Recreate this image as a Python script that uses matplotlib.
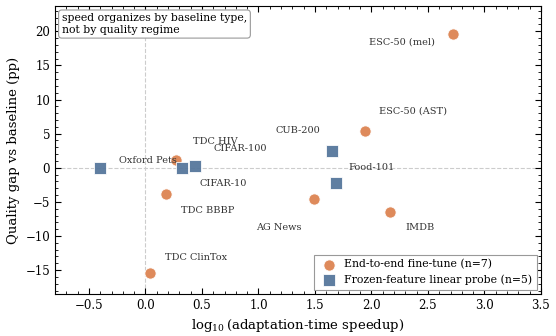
import numpy as np
import matplotlib
matplotlib.use("Agg")
import matplotlib.pyplot as plt

plt.rcParams["font.family"] = ["DejaVu Serif"]
plt.rcParams["mathtext.fontset"] = "dejavuserif"

# End-to-end fine-tune
ft_names = ["ESC-50 (mel)", "ESC-50 (AST)", "Oxford Pets", "TDC BBBP",
            "AG News", "IMDB", "TDC ClinTox"]
ft_x = [2.72, 1.94, 0.27, 0.18, 1.49, 2.16, 0.04]
ft_y = [19.6, 5.4, 1.1, -3.9, -4.6, -6.5, -15.4]

# Frozen-feature linear probe
lp_names = ["TDC HIV", "CIFAR-10", "CIFAR-100", "CUB-200", "Food-101"]
lp_x = [-0.40, 0.32, 0.44, 1.65, 1.69]
lp_y = [0.0, 0.0, 0.3, 2.5, -2.3]

# label text placement (data coords)
label_pos = {
    "ESC-50 (mel)": (2.27, 18.4),
    "ESC-50 (AST)": (2.37, 8.3),
    "Oxford Pets": (0.02, 1.1),
    "TDC BBBP": (0.55, -6.3),
    "AG News": (1.18, -8.7),
    "IMDB": (2.43, -8.8),
    "TDC ClinTox": (0.45, -13.1),
    "TDC HIV": (0.615, 3.9),
    "CIFAR-10": (0.69, -2.3),
    "CIFAR-100": (0.84, 2.85),
    "CUB-200": (1.35, 5.4),
    "Food-101": (2.0, 0.1),
}

orange = "#DD8452"
blue = "#56779C"

fig, ax = plt.subplots(figsize=(5.56, 3.36), dpi=100)

ax.axhline(0, color="#cccccc", lw=0.8, ls="--", zorder=0)
ax.axvline(0, color="#cccccc", lw=0.8, ls="--", zorder=0)

ax.scatter(ft_x, ft_y, s=65, marker="o", color=orange, edgecolor="white",
           linewidth=0.6, alpha=0.95, zorder=3, label="End-to-end fine-tune (n=7)")
ax.scatter(lp_x, lp_y, s=65, marker="s", color=blue, edgecolor="white",
           linewidth=0.6, alpha=0.95, zorder=3, label="Frozen-feature linear probe (n=5)")

for name in ft_names + lp_names:
    tx, ty = label_pos[name]
    ax.text(tx, ty, name, fontsize=7, color="#333333", ha="center", va="center", zorder=4)

ax.set_xlim(-0.8, 3.5)
ax.set_ylim(-18.5, 23.7)
ax.set_xticks(np.arange(-0.5, 3.6, 0.5))
ax.set_yticks(np.arange(-15, 21, 5))
ax.minorticks_on()
ax.tick_params(which="both", direction="in", top=True, right=True, labelsize=8.5)
ax.tick_params(which="major", length=4)
ax.tick_params(which="minor", length=2)

ax.set_xlabel(r"$\log_{10}$(adaptation-time speedup)", fontsize=9.5)
ax.set_ylabel("Quality gap vs baseline (pp)", fontsize=9.5)

ax.text(0.014, 0.975, "speed organizes by baseline type,\nnot by quality regime",
        transform=ax.transAxes, fontsize=7.8, va="top", ha="left",
        bbox=dict(boxstyle="round,pad=0.3", fc="white", ec="#999999", lw=0.8))

leg = ax.legend(loc="lower right", fontsize=7.8, fancybox=False, framealpha=1,
                edgecolor="#999999", borderpad=0.4, handletextpad=0.4,
                borderaxespad=0.4)
leg.get_frame().set_linewidth(0.8)

fig.subplots_adjust(left=0.099, right=0.973, top=0.982, bottom=0.125)
fig.savefig("out.png", dpi=100)
